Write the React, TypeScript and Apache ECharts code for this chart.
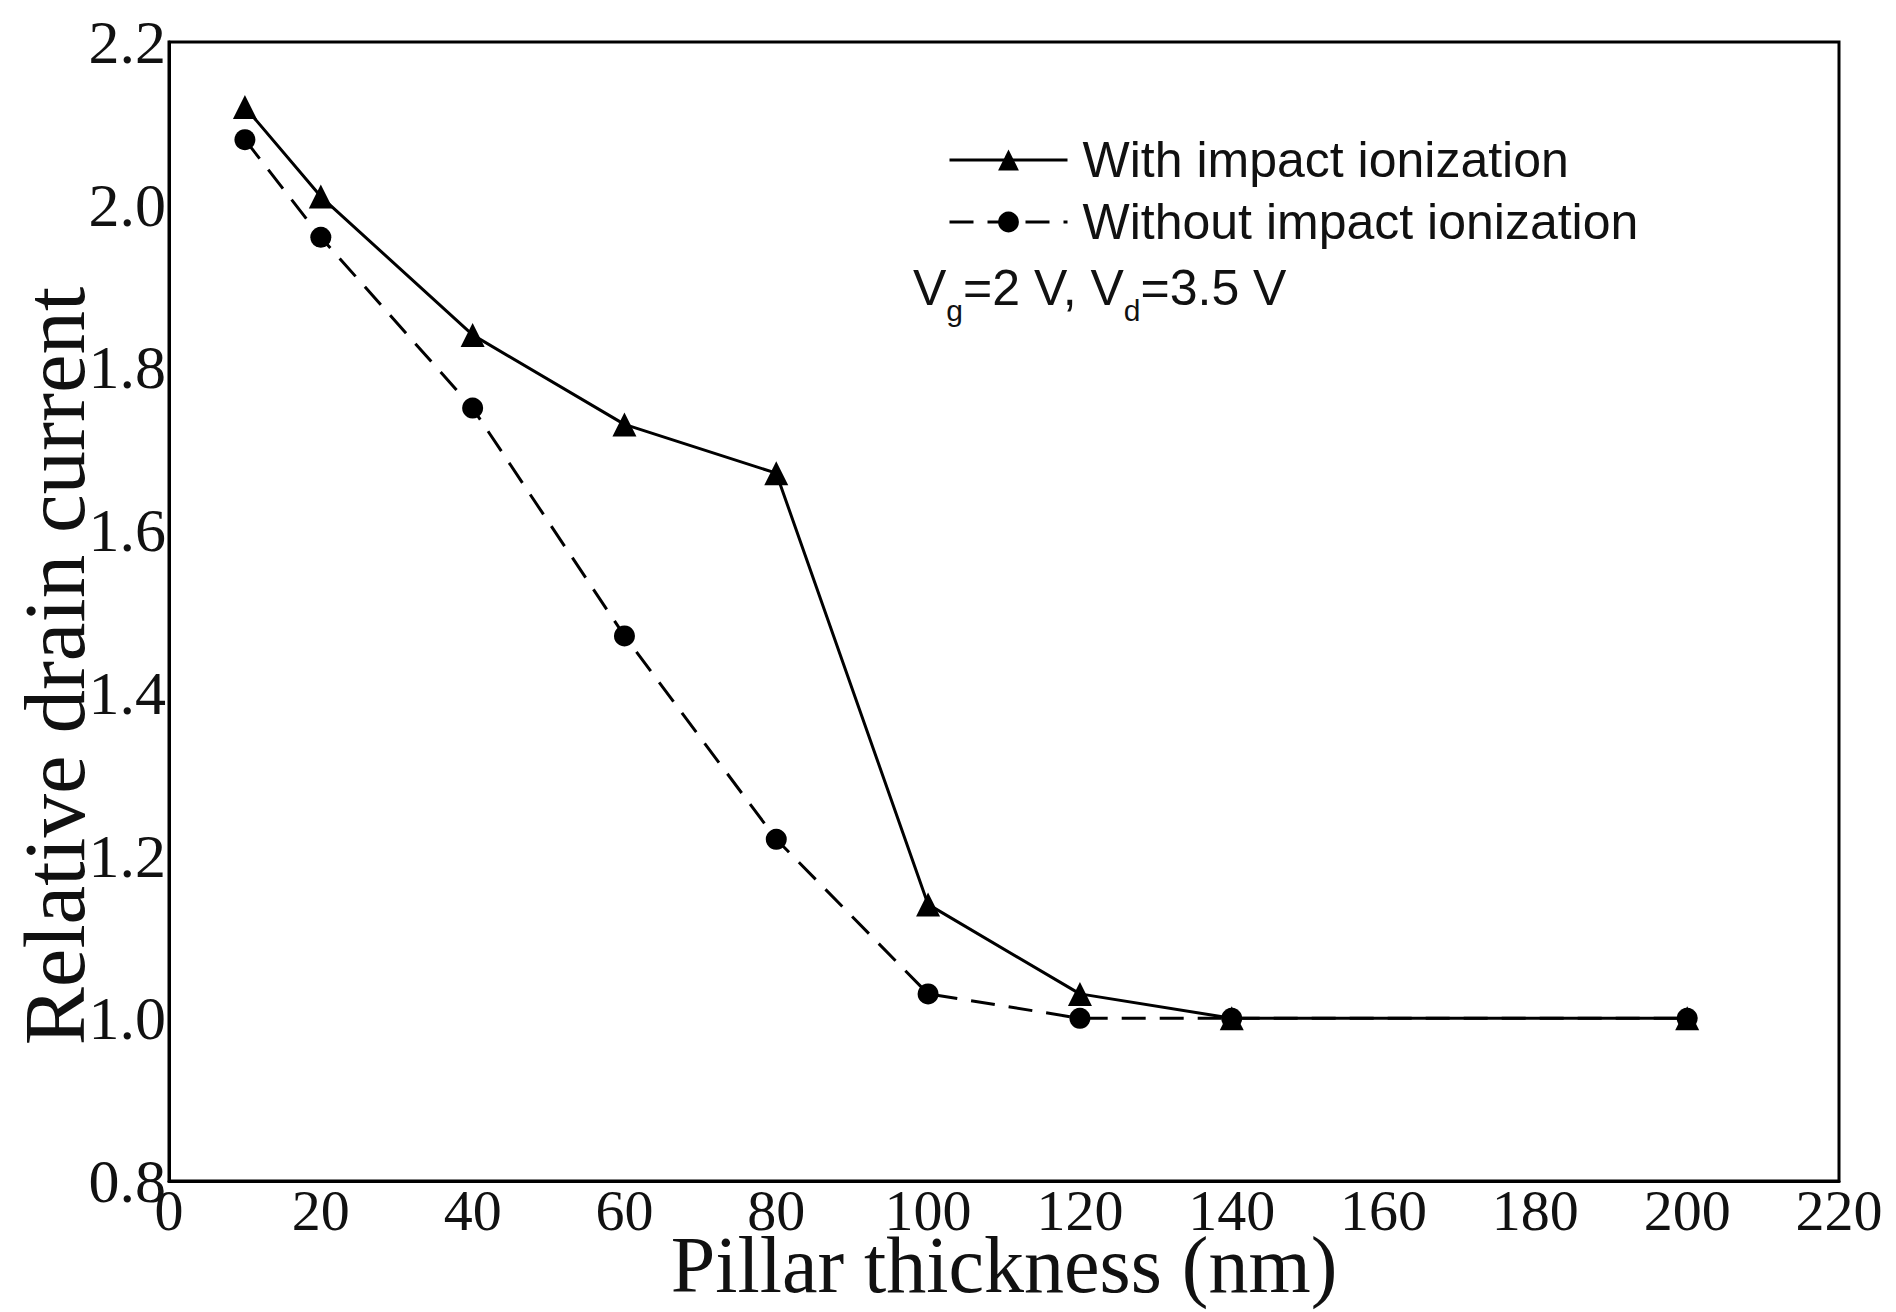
import React, { useEffect, useRef } from "react";
import * as echarts from "echarts";

const thickness = [10, 20, 40, 60, 80, 100, 120, 140, 200];
const withImpact = [2.12, 2.01, 1.84, 1.73, 1.67, 1.14, 1.03, 1.0, 1.0];
const withoutImpact = [2.08, 1.96, 1.75, 1.47, 1.22, 1.03, 1.0, 1.0, 1.0];
const seriesNames = ["With impact ionization", "Without impact ionization"];
const xTitle = "Pillar thickness (nm)";
const yTitle = "Relative drain current";

export default function App() {
  const ref = useRef<HTMLDivElement>(null);
  useEffect(() => {
    const chart = echarts.init(ref.current!, null, { renderer: "svg" });
    const serif = "Liberation Serif";
    const sans = "Liberation Sans";
    chart.setOption({
      animation: false,
      backgroundColor: "#ffffff",
      grid: {
        left: 169,
        top: 42,
        right: 57,
        bottom: 131,
        show: true,
        borderColor: "#000",
        borderWidth: 3,
        containLabel: false,
        outerBoundsMode: "none",
      },
      xAxis: {
        type: "value",
        min: 0,
        max: 220,
        interval: 20,
        name: xTitle,
        nameLocation: "middle",
        nameGap: 56,
        nameMoveOverlap: false,
        nameTextStyle: { fontFamily: serif, fontSize: 80, lineHeight: 56, color: "#111" },
        axisLine: { show: true, lineStyle: { color: "#000", width: 3 } },
        axisTick: { show: false },
        splitLine: { show: false },
        axisLabel: { fontFamily: serif, fontSize: 58, lineHeight: 48, color: "#111", margin: 5 },
      },
      yAxis: {
        type: "value",
        min: 0.8,
        max: 2.2,
        interval: 0.2,
        axisLine: { show: true, lineStyle: { color: "#000", width: 3 } },
        axisTick: { show: false },
        splitLine: { show: false },
        axisLabel: {
          fontFamily: serif,
          fontSize: 62,
          color: "#111",
          margin: 3,
          formatter: (v: number) => v.toFixed(1),
        },
      },
      legend: {
        orient: "vertical",
        left: 943,
        top: 130,
        itemWidth: 118,
        itemHeight: 26,
        itemGap: 12,
        lineStyle: { width: 3 },
        textStyle: { fontFamily: sans, fontSize: 50, color: "#111", padding: [0, 0, 0, 10] },
        data: seriesNames,
      },
      graphic: [
        {
          type: "text",
          x: 54,
          y: 666,
          rotation: Math.PI / 2,
          style: {
            text: yTitle,
            fontFamily: serif,
            fontSize: 87,
            fill: "#111",
            textAlign: "center",
            textVerticalAlign: "middle",
          },
        },
        {
          type: "text",
          x: 913,
          y: 288,
          style: {
            text: "V{s|g}=2 V, V{s|d}=3.5 V",
            fontFamily: sans,
            fontSize: 50,
            fill: "#111",
            textVerticalAlign: "middle",
            rich: {
              s: { fontFamily: sans, fontSize: 30, fill: "#111", padding: [44, 0, 0, 0] },
            },
          },
        },
      ],
      series: [
        {
          name: seriesNames[0],
          type: "line",
          data: thickness.map((x, i) => [x, withImpact[i]]),
          symbol: "triangle",
          symbolSize: 24,
          lineStyle: { color: "#000", width: 3, type: "solid" },
          itemStyle: { color: "#000" },
        },
        {
          name: seriesNames[1],
          type: "line",
          data: thickness.map((x, i) => [x, withoutImpact[i]]),
          symbol: "circle",
          symbolSize: 21,
          lineStyle: { color: "#000", width: 3, type: [24, 14] },
          itemStyle: { color: "#000" },
        },
      ],
    });
    return () => chart.dispose();
  }, []);
  return (
    <div
      ref={ref}
      style={{ position: "fixed", left: 0, top: 0, width: 1896, height: 1312 }}
    />
  );
}
